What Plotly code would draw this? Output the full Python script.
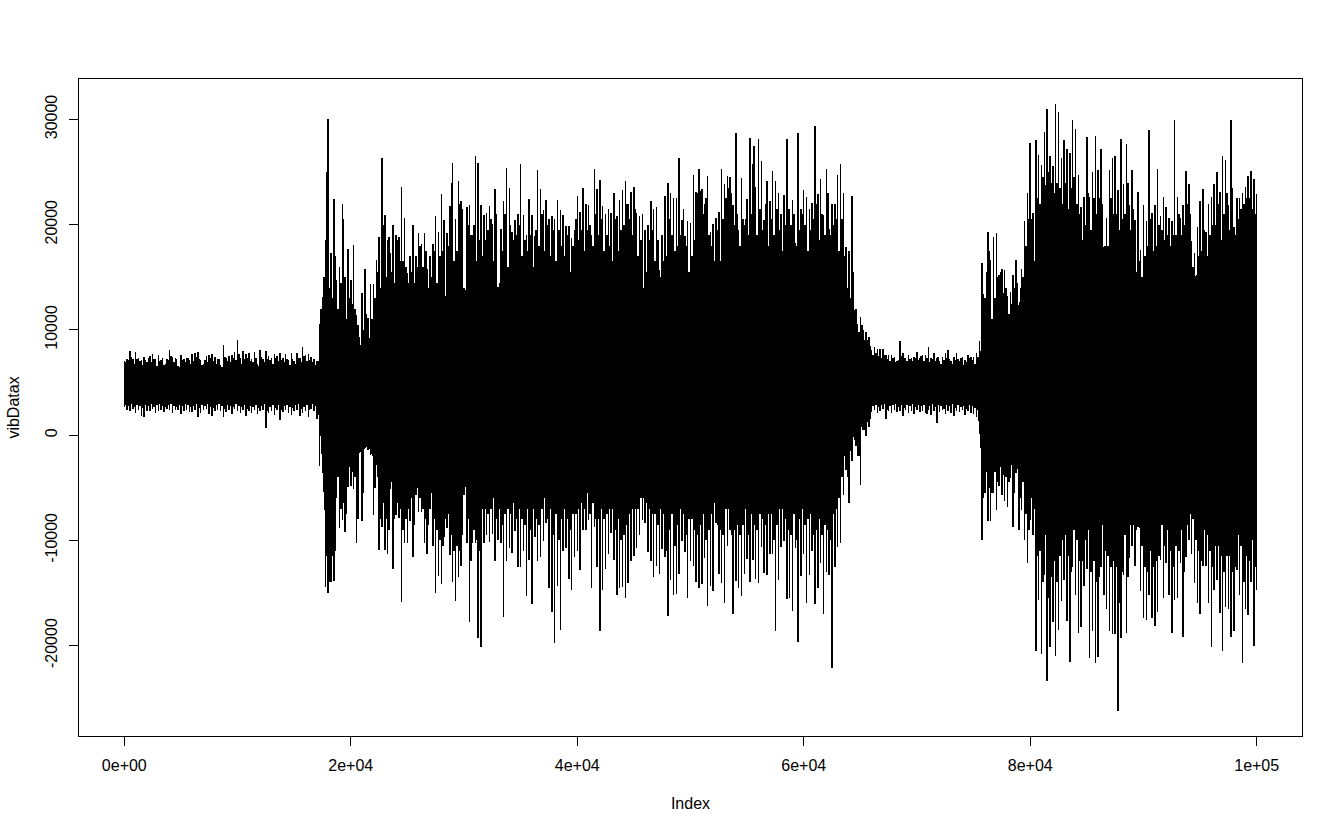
import numpy as np
import plotly.graph_objects as go

# tallest excursions per 250-sample column
hi_quiet_a = [7000,7200,8000,7200,7900,7300,7100,7400,6900,7500,7700,7200,7600,7100,6700,7200,8100,7400,7300,6600,
7600,7200,7300,7100,7700,7800,7900,7100,6800,7500,7600,7700,7400,7200,6700,8600,7300,7500,7600,7900,
9000,7300,8000,7700,7800,7200,7900,6800,8100,7200,8000,7500,7300,7700,7500,7800,7300,7700,7100,7800,
7000,7800,7300,8400,7600,7700,7400,7200,7000]
hi_burst_a = [10600,13100,18500,30000,17300,22400,14700,16000,22000,15000,17700,14700,18100,11400,9300,13500,15800,11100,14400,14400,
16600,18800,26300,20900,18500,17300,20000,19000,18800,23600,20600,15400,17000,20000,17000,19200,18200,19200,15800,17000,
18200,20800,19300,22900,20400,19200,21800,25900,20500,24100,22200,14000,21700,21900,19000,26500,25900]
hi_burst_b = [21900,20900,21100,21800,20100,23400,14100,19600,22200,25400,23500,19300,20400,21000,25800,20900,19000,22400,20900,18900,
25200,23400,21400,22300,20500,20800,20500,22300,21400,20900,19900,19900,18700,19500,22700,21200,23500,22000,21900,19000,
25300,23400,24200,21800,21000,21500,21100,23000,20800,22300,23300,24100,22000,23100,23600,21100,20800,21000,19500,20000,
22200,21500,21700,15700,19000,22700,24000,23000,22500,22500,26300,20400,18900,20300,20200,24700,23100,25300,23400,22000,
24600,19300,20100,20600,21200,25300,23900,24600,24500,21900,28700,19500,24400,20000,22400,28200,25800,23600,28100,26000,
20400,24100,22200,25100,24100,23000,21000,22800,28100,21500,22300,18300,28700,21500,23300,22600,21500,22100,29400,22900,
24300,20900,25300,19600,22000,22000,24700,25800,23000,17900,17500,22700,11900,10600,11200,10000,9800,9300]
hi_quiet_b = [8100,8400,8200,8200,8200,7600,7600,7600,7400,7000,8900,7800,7300,7600,7300,7400,7900,7300,7600,7600,
8400,7300,7800,7300,7000,7400,7800,8100,7000,7400,7800,7000,7400,7100,7600,7400,7400,7800,8900]
hi_burst_c = [16400,13000,19300,16600,18800,19200,15200,15800,15700,13200,13600,15200,16600,11100,15800,20300,23000,27800,21100,28000,
26600,25700,28800,31000,26500,25600,31500,30700,26300,28000,27200,26800,29900,29100,24700,21700,22600,28300,22600,25000,
28400,25200,27200,17900,20600,25200,26300,26500,23300,28100,23900,27700,21900,25200,20400,23100,17600,21900,20300,29000,
21100,21900,25300,20800,22600,21700,20600,20300,29900,22600,20600,21900,25100,23900,18400,17300,19800,22200,23400,19300,
22000,22600,23900,25000,23100,26500,26100,21900,29900,19800,22500,22500,23000,23600,24600,25100,24300,22900]

lo_quiet_a = [2700,2400,2300,2500,2100,2400,1800,1700,2300,2300,2500,2100,2300,2400,2200,2500,2400,2100,2400,2400,
2000,2300,2400,2200,2200,2400,1700,2100,2400,2500,2000,1800,2300,2400,2300,1700,2200,2400,2000,2500,
2300,2100,2400,1800,2300,2100,2400,2000,2300,2400,700,2100,2300,1900,2400,1400,2200,2400,2100,1900,
2300,2400,1800,2100,2300,1700,2500,2300,1500]
lo_burst_a = [-2900,-1300,-14400,-15000,-14000,-13900,-6000,-8800,-8100,-9200,-4900,-4800,-5100,-10300,500,-8200,-1100,-1400,-1900,-7600,
-300,-10900,-8700,-10900,-11300,-5100,-12700,-7600,-7900,-15900,-10300,-10300,-8200,-11600,-5700,-7300,-7300,-10300,-11300,-7000,
-10500,-15000,-13400,-14200,-9700,-8800,-11400,-14000,-15800,-13500,-12400,-5700,-10300,-17800,-10300,-10300,-19300]
lo_burst_b = [-20100,-10300,-9500,-10200,-9400,-12000,-10000,-10300,-17300,-12000,-10700,-11200,-9100,-12500,-12500,-11000,-15300,-11900,-16100,-9700,
-12000,-11600,-10100,-8400,-14500,-16800,-19800,-14300,-18500,-11000,-10700,-13700,-14700,-11600,-11000,-12800,-9000,-9000,-8100,-14500,
-8700,-12500,-18600,-14700,-12700,-11300,-9300,-11900,-15200,-14500,-14400,-15500,-14100,-12000,-11500,-10700,-9500,-8100,-8400,-11100,
-12000,-13500,-12400,-13200,-10800,-11600,-17200,-13800,-15200,-15100,-13200,-10100,-11100,-15500,-12000,-12400,-14000,-14500,-14200,-11700,
-16200,-14300,-14800,-8400,-13200,-14100,-16000,-10500,-9000,-17000,-13900,-14500,-15300,-13200,-11800,-14000,-11900,-13700,-14100,-10600,
-13100,-13300,-11300,-11300,-18600,-13800,-10600,-10100,-15600,-15500,-16700,-10700,-19700,-13400,-11300,-16000,-13300,-11000,-16100,-14500,
-12200,-17000,-13000,-13300,-22100,-12500,-10600,-10300,-5700,-3300,-6500,-2500,-500,-2000,-4700,500,-100,800]
lo_quiet_b = [2200,2400,2100,2300,2500,1500,2300,2100,2400,2200,2300,1800,2400,2100,2300,2000,2400,2200,2300,2100,
2400,1900,2300,1100,2200,2400,2000,2300,2100,1800,2300,2200,2400,1900,2300,2100,2000,1700,1100]
lo_burst_c = [-10000,-5500,-8200,-8200,-5500,-7100,-4800,-5700,-6300,-6800,-4100,-8700,-3600,-9000,-7100,-10000,-12200,-8100,-9500,-20500,
-15700,-20800,-13300,-23400,-20100,-17800,-21000,-18500,-15800,-13800,-17700,-21600,-12500,-15200,-18800,-18200,-14300,-12700,-21200,-18600,
-21700,-21100,-12500,-15200,-16500,-18600,-18900,-18900,-26200,-19300,-13300,-18800,-11700,-10500,-12400,-8000,-14800,-17400,-17600,-15200,
-17400,-18100,-16800,-11900,-15500,-12200,-15200,-18800,-15700,-15500,-12200,-19200,-11600,-10000,-11300,-14100,-16000,-17000,-12400,-12400,
-16000,-20100,-14700,-13800,-16900,-20500,-16300,-16500,-19200,-18600,-12800,-15200,-21700,-16500,-17100,-14000,-20000,-14700]

# in-between columns, offset by 125 samples
mid_hi_quiet_a = [6900,7100,7400,6800,7200,7000,6700,7100,7300,6900,7200,6600,7000,7300,6800,7100,7500,6900,7200,6500,
7100,6900,7300,6800,7000,7400,7200,6700,7100,6900,7300,7000,6800,7200,6500,7400,7000,6900,7300,7100,
7700,6800,7200,7300,7000,6900,7300,6600,7400,6900,7200,7100,6800,7300,7000,7100,6900,7200,6700,7200,
6800,7300,6900,7500,7000,7100,6900,6700]
mid_hi_burst_a = [7000,12000,15000,25000,14000,13000,17000,12000,14500,20500,11000,13000,12500,12000,10500,8500,10000,11500,9000,11000,
13000,15500,14000,20000,15000,18800,15500,14500,18500,16500,16500,16000,14500,15500,14500,16000,18000,16000,17500,14000,
15000,17500,14500,17000,17500,13000,18000,24000,16500,17500,22000,21500,13500,20000,19000,20000,16500]
mid_hi_burst_b = [18500,17000,18500,19500,20500,16500,21000,14500,17500,21000,16000,20000,18500,19000,20000,17000,18500,17500,19000,16000,
19500,18000,21000,17500,20000,17000,19500,16500,19500,18000,17000,19000,15500,18000,20500,18500,19500,17500,19500,20000,
18000,21000,19000,20500,17500,19000,18000,16500,20500,17500,19500,20000,22000,20500,19000,21500,17000,18500,10500,15500,
18500,19500,16500,18500,15000,16500,17000,20500,19000,17500,18000,19000,21500,18000,15500,17000,18500,23000,23200,21000,
22500,19000,18000,16500,19500,16500,20500,22500,23500,23000,20000,21000,18000,20500,20500,19000,21000,27500,19000,21500,
19500,22000,18000,20500,19000,21500,19500,17500,20000,21500,20000,21000,18000,19500,21000,20000,17500,19500,20500,22000,
18500,21000,19000,23000,19000,20000,20500,17500,20500,17000,14000,13000,15500,12000,9800,10500,9000,9000,8500]
mid_hi_quiet_b = [7600,7800,7500,7300,7600,7200,7000,7300,6900,7100,7500,7300,7000,7200,7000,7300,7100,7500,7000,7300,
6900,7200,7000,7400,6800,7100,7300,7200,6800,7100,7200,7300,6700,6900,7300,7100,6800,7400,7800]
mid_hi_burst_c = [13400,15500,17500,11000,13000,15000,15500,13500,14000,11500,12500,14000,14500,14000,15000,18000,20500,20500,16500,22500,
22000,24500,23800,25000,24000,23000,24000,23500,22000,24000,21500,23500,24500,22000,21000,18500,20000,23000,19500,22500,
21000,22500,22000,18000,18000,22500,21000,21000,19500,20500,21000,24000,19500,21500,15500,16500,14800,17000,18000,20500,
17500,18000,20000,19500,18500,19000,18000,19000,19000,21000,19000,20000,22000,21000,16000,15000,17000,17500,19500,17000,
19000,20000,20000,22000,18500,21000,23000,19500,23500,19000,20500,21500,22000,22500,22500,21500,21000]

mid_lo_quiet_a = [2900,2800,3000,2700,2900,2800,2600,2900,2800,3000,2700,2900,3000,2800,2700,2900,3000,2800,2700,2900,
2800,3000,2900,2700,2800,3000,2600,2900,2800,3000,2700,2600,2900,3000,2800,2500,2900,2800,2700,3000,
2800,2700,2900,2500,2800,2700,2900,2600,2800,3000,2300,2700,2900,2600,2900,2400,2800,2900,2700,2600,
2900,3000,2500,2700,2900,2400,3000,2800]
mid_lo_burst_a = [2000,500,-1000,-11500,-14000,-11500,-11000,-4000,-7000,-6500,-7500,-3000,-3500,-4000,-8000,-800,-5500,-800,-1000,-1200,
-5000,-4000,-8000,-6500,-8000,-9000,-4500,-8000,-6500,-7000,-9000,-8000,-7000,-6000,-8500,-5000,-6000,-7000,-8000,-8500,
-5500,-8000,-9000,-10000,-10500,-8000,-7500,-9500,-11000,-10500,-11000,-9500,-4500,-8000,-12000,-9000,-10000]
mid_lo_burst_b = [-11000,-7000,-7000,-7500,-7000,-6000,-8000,-7000,-8500,-7500,-7000,-7500,-6500,-8000,-7000,-8000,-8500,-7000,-9000,-7000,
-8000,-8500,-7000,-6000,-8000,-7000,-9500,-7500,-10000,-8000,-7000,-8000,-9000,-7500,-7500,-7000,-6500,-7000,-5500,-7500,
-6500,-8000,-8000,-7000,-8000,-7500,-7000,-7000,-9000,-8000,-10000,-9500,-8500,-7500,-7000,-7000,-7000,-6000,-6000,-6500,
-7000,-7500,-7500,-8500,-7000,-7500,-11000,-9000,-7500,-10500,-8500,-7000,-7500,-9500,-8000,-8000,-9000,-9500,-8500,-7500,
-10000,-9000,-7500,-6500,-8500,-9000,-9500,-7000,-7000,-9500,-9000,-8500,-9500,-8500,-7000,-9500,-7500,-8500,-9000,-7500,
-8000,-8500,-7500,-7500,-10000,-8500,-7000,-7000,-8000,-9000,-9500,-7500,-10000,-8000,-7000,-8500,-8000,-7500,-9500,-9000,
-8000,-9500,-8500,-9000,-10000,-7500,-7000,-6000,-4000,-2000,-4000,-1500,-200,-1000,-2000,800,500,1200,1500]
mid_lo_quiet_b = [2800,2900,2700,2900,3000,2400,2800,2900,3000,2700,2900,2600,2900,2800,3000,2700,2900,2800,2900,2000,
2800,3000,2700,2900,2800,2500,2900,2800,3000,2600,2900,2700,2800,2500,2900,2800,2600,2400,1800]
mid_lo_burst_c = [-6000,-3500,-5000,-5500,-3500,-4500,-3000,-3800,-4000,-4500,-2800,-5500,-2500,-6000,-4500,-7500,-9000,-6000,-7000,-11500,
-11000,-14000,-9500,-15500,-13500,-12000,-14000,-11500,-10000,-9500,-11500,-13000,-9000,-10000,-12000,-12000,-10000,-9000,-13000,-12000,
-14000,-13500,-8500,-11000,-11500,-12500,-12000,-12500,-16000,-13000,-9500,-13500,-8500,-7500,-9000,-6500,-10500,-12500,-13000,-11000,
-12500,-12000,-11500,-8500,-10500,-9000,-11000,-12500,-10500,-11000,-9000,-13000,-8500,-7500,-8000,-10000,-11000,-12000,-9000,-9500,
-11000,-12500,-10500,-10500,-11500,-13000,-11500,-11500,-13000,-12500,-9500,-10500,-14000,-11500,-12000,-10000,-12500]

core_index = [0,17000,17300,17800,18500,20000,21500,23000,26000,31000,40000,50000,55000,60000,62000,63500,65000,66000,75300,75700,76500,78000,79000,80500,83000,86000,90000,92000,96000,100000]
core_top = [6200,6200,7500,9500,9000,8000,9000,11500,12500,14000,14000,14000,15500,15500,14000,11500,7000,6200,6200,8500,9500,9500,12500,16000,17000,15500,15000,14500,15500,15000]
core_bottom = [3300,3300,500,-9500,-3000,-2500,-1000,-4500,-4500,-5000,-5000,-5000,-5500,-5000,-3500,-500,2000,3300,3300,-2500,-2000,-1500,-3500,-5500,-6500,-7000,-9000,-5500,-7500,-6500]

x_ticks = [0,20000,40000,60000,80000,100000]
x_labels = ["0e+00","2e+04","4e+04","6e+04","8e+04","1e+05"]
y_ticks = [-20000,-10000,0,10000,20000,30000]
y_labels = ["-20000","-10000","0","10000","20000","30000"]

hi = hi_quiet_a + hi_burst_a + hi_burst_b + hi_quiet_b + hi_burst_c
lo = lo_quiet_a + lo_burst_a + lo_burst_b + lo_quiet_b + lo_burst_c
mid_hi = mid_hi_quiet_a + mid_hi_burst_a + mid_hi_burst_b + mid_hi_quiet_b + mid_hi_burst_c
mid_lo = mid_lo_quiet_a + mid_lo_burst_a + mid_lo_burst_b + mid_lo_quiet_b + mid_lo_burst_c
index = np.arange(0, 100001, 250)
mid_index = np.arange(125, 100000, 250)
assert len(hi) == len(index), len(hi)
assert len(lo) == len(index), len(lo)
assert len(mid_hi) == len(mid_index), len(mid_hi)
assert len(mid_lo) == len(mid_index), len(mid_lo)

xs, ys = [], []
for i, h, l in zip(index, hi, lo):
    xs += [int(i), int(i), None]
    ys += [h, l, None]
for i, h, l in zip(mid_index, mid_hi, mid_lo):
    xs += [int(i), int(i), None]
    ys += [h, l, None]

fig = go.Figure()
fig.add_trace(go.Scatter(x=core_index + core_index[::-1], y=core_top + core_bottom[::-1],
                         mode="lines", fill="toself", fillcolor="black",
                         line=dict(color="black", width=0), hoverinfo="skip", showlegend=False))
fig.add_trace(go.Scatter(x=xs, y=ys, mode="lines", line=dict(color="black", width=1.5, simplify=False),
                         connectgaps=False, showlegend=False))

font = dict(family="Liberation Sans, Arial, sans-serif", size=16, color="black")
fig.update_layout(
    width=1343, height=833, autosize=False,
    margin=dict(l=79, r=41, t=79, b=97),
    paper_bgcolor="white", plot_bgcolor="white", font=font, showlegend=False,
    xaxis=dict(range=[-4000, 104000], tickvals=x_ticks, ticktext=x_labels, ticks="outside", ticklen=9,
               tickcolor="black", showgrid=False, zeroline=False, showline=True, mirror=True,
               linecolor="black", linewidth=1, ticklabelstandoff=6,
               title=dict(text="Index", font=font, standoff=24)),
    yaxis=dict(range=[-28600, 33840], tickvals=y_ticks, ticktext=y_labels, ticks="outside", ticklen=9,
               tickcolor="black", tickangle=-90, showgrid=False, zeroline=False, showline=True, mirror=True,
               linecolor="black", linewidth=1, ticklabelstandoff=6,
               title=dict(text="vibDatax", font=font, standoff=18)),
)
fig.write_html("out.html", config={"displayModeBar": False},
               post_script="document.body.style.margin='0';"
                           "document.querySelectorAll('.scatterlayer path').forEach(function(p){p.style.shapeRendering='crispEdges';});")
